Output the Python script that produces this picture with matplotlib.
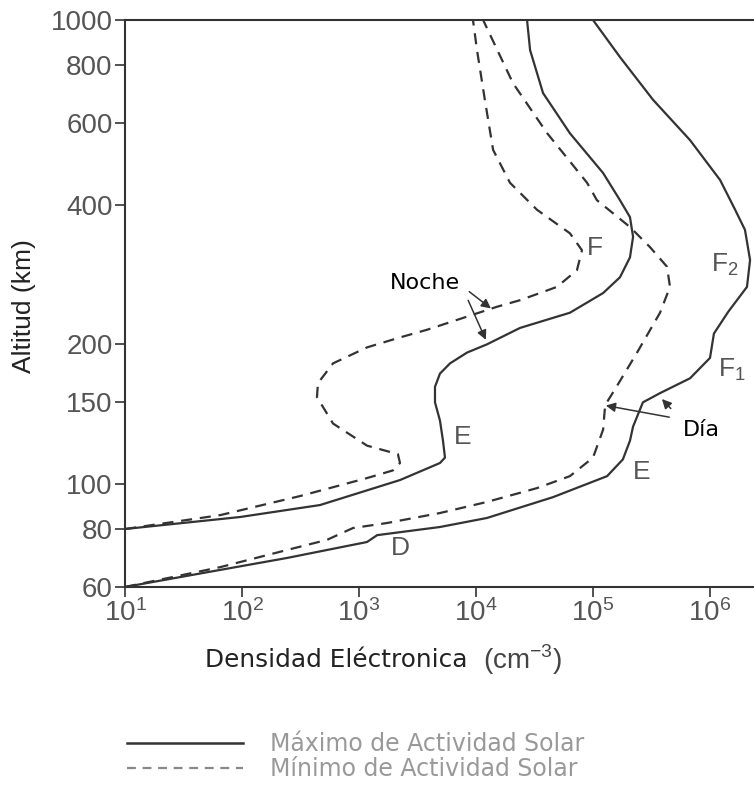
import numpy as np
import matplotlib.pyplot as plt
from matplotlib.lines import Line2D
from matplotlib.ticker import NullLocator, FixedLocator

plt.rcParams['font.family'] = ['Liberation Sans', 'DejaVu Sans']
plt.rcParams['mathtext.fontset'] = 'custom'
plt.rcParams['mathtext.rm'] = 'Liberation Sans'

# perfiles de densidad electronica (cm^-3) vs altitud (km), leidos de la figura
# dia - maximo de actividad solar
dia_max_dens = [10, 65, 243, 1170, 1430, 4920, 12400, 45500, 132000, 180000,
                207000, 220000, 267000, 374000, 675000, 1.0e6, 1.08e6, 1.43e6,
                2.07e6, 2.2e6, 1.99e6, 1.64e6, 1.22e6, 675000, 326000, 170000, 100000]
dia_max_alt = [60, 65.3, 69.3, 75.0, 77.6, 80.8, 84.5, 93.7, 104, 113,
               124, 133, 150, 157, 169, 187, 211, 235,
               266, 304, 353, 390, 452, 551, 673, 832, 1000]

# dia - minimo de actividad solar
dia_min_dens = [10, 65, 243, 532, 889, 1730, 4920, 12400, 33200, 63500,
                100000, 122000, 127000, 154000, 238000, 374000, 455000, 429000,
                307000, 207000, 108000, 88900, 40400, 20700, 11500]
dia_min_alt = [60, 66.2, 72.1, 75.8, 80.4, 82.4, 86.6, 91.5, 98.0, 104,
               114, 131, 148, 160, 192, 234, 266, 294,
               324, 358, 409, 446, 571, 731, 1000]

# noche - maximo de actividad solar
noche_max_dens = [10, 96, 464, 2240, 4920, 5430, 5220, 4920, 4460, 4460,
                  4920, 6000, 8380, 12400, 23800, 63500, 122000, 170000,
                  207000, 220000, 207000, 170000, 122000, 63500, 37400, 29000, 27300]
noche_max_alt = [80, 84.9, 90.1, 102, 111, 114, 124, 137, 150, 162,
                 173, 182, 192, 200, 217, 234, 258, 279,
                 308, 341, 376, 409, 468, 570, 696, 861, 1000]

# noche - minimo de actividad solar
noche_min_dens = [10, 65, 313, 1170, 1950, 2240, 2150, 1170, 600, 437,
                  446, 600, 1170, 2240, 3810, 15100, 23800, 49200,
                  72900, 80500, 63500, 33200, 19500, 14000, 11900, 10200, 9420]
noche_min_alt = [80, 85.7, 94.2, 103, 107, 111, 116, 121, 135, 154,
                 165, 182, 197, 207, 215, 241, 249, 266,
                 289, 319, 347, 390, 446, 525, 673, 861, 1000]

y_ticks = [60, 80, 100, 150, 200, 400, 600, 800, 1000]
x_ticks = [1e1, 1e2, 1e3, 1e4, 1e5, 1e6]

line_col = '#333333'
gray_txt = '#555555'

fig = plt.figure(figsize=(7.54, 7.88), dpi=100)
ax = fig.add_axes([0.1658, 0.2551, 0.8342, 0.7195])

ax.plot(dia_max_dens, dia_max_alt, color=line_col, lw=1.6)
ax.plot(noche_max_dens, noche_max_alt, color=line_col, lw=1.6)
ax.plot(dia_min_dens, dia_min_alt, color=line_col, lw=1.6, dashes=(5, 3.5))
ax.plot(noche_min_dens, noche_min_alt, color=line_col, lw=1.6, dashes=(5, 3.5))

ax.set_xscale('log')
ax.set_yscale('log')
ax.set_xlim(10, 10 ** 6.376)
ax.set_ylim(60, 1000)

ax.yaxis.set_major_locator(FixedLocator(y_ticks))
ax.set_yticklabels([str(v) for v in y_ticks])
ax.xaxis.set_major_locator(FixedLocator(x_ticks))
ax.set_xticklabels([r'$\mathregular{10^{%d}}$' % int(np.log10(v)) for v in x_ticks])
ax.xaxis.set_minor_locator(NullLocator())
ax.yaxis.set_minor_locator(NullLocator())

ax.tick_params(direction='out', length=7, width=1.2, color=line_col,
               labelcolor=gray_txt, labelsize=20, pad=2)
ax.spines['right'].set_visible(False)
for s in ['top', 'left', 'bottom']:
    ax.spines[s].set_linewidth(1.5)
    ax.spines[s].set_color(line_col)

ax.set_ylabel('Altitud (km)', fontsize=19, color='#222222')
ax.yaxis.set_label_coords(-0.142, 0.495)

# etiquetas de capas
lbl = dict(fontsize=19, color=gray_txt, ha='center', va='center')
ax.text(1.04e5, 323, 'F', **lbl)
ax.text(1.34e6, 297, r'F$_\mathregular{2}$', **lbl)
ax.text(1.54e6, 176, r'F$_\mathregular{1}$', **lbl)
ax.text(7740, 126, 'E', **lbl)
ax.text(2.62e5, 106, 'E', **lbl)
ax.text(2240, 72.8, 'D', **lbl)

# anotaciones noche / dia
ax.text(3660, 271, 'Noche', fontsize=16, family='DejaVu Sans', ha='center', va='center')
arr = dict(arrowstyle='-|>', color=line_col, lw=1.1, mutation_scale=14)
ax.annotate('', xy=(14000, 237), xytext=(8380, 262), arrowprops=arr)
ax.annotate('', xy=(12400, 202), xytext=(8380, 252), arrowprops=arr)

ax.text(5.9e5, 131, 'Día', fontsize=16, family='DejaVu Sans', ha='left', va='center')
ax.annotate('', xy=(122000, 148), xytext=(473000, 139), arrowprops=arr)
ax.annotate('', xy=(374000, 154), xytext=(480000, 144), arrowprops=arr)

# eje x (etiqueta desplazada como en el original)
fig.text(0.4456, 0.1624, 'Densidad Eléctronica', fontsize=17.8, family='DejaVu Sans',
         color='#222222', ha='center', va='center')
fig.text(0.693, 0.1624, r'(cm$^{\mathregular{-3}}$)', fontsize=20, color='#444444',
         ha='center', va='center')

# leyenda
handles = [Line2D([], [], color=line_col, lw=1.8),
           Line2D([], [], color='#888888', lw=1.6, dashes=(4, 3))]
leg = fig.legend(handles, ['Máximo de Actividad Solar', 'Mínimo de Actividad Solar'],
                 loc='upper left', bbox_to_anchor=(127 / 754, 0.0705), frameon=False,
                 borderpad=0, borderaxespad=0, handlelength=4.9, handletextpad=1.15,
                 labelspacing=0.02, prop={'family': 'DejaVu Sans', 'size': 17})
for t in leg.get_texts():
    t.set_color('#999999')

fig.savefig('out.png', dpi=100)
